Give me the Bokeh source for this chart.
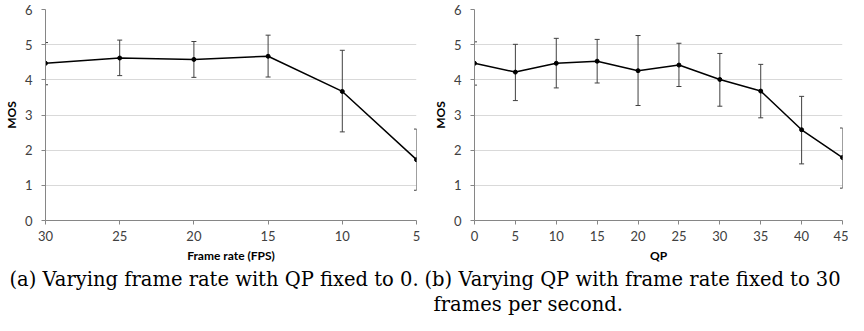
from bokeh.plotting import figure
from bokeh.models import Range1d, Whisker, ColumnDataSource, Title, FixedTicker, TeeHead
from bokeh.layouts import row
from bokeh.embed import file_html
from bokeh.resources import INLINE

# Panel (a): varying frame rate, QP fixed to 0
fps = [30, 25, 20, 15, 10, 5]
mos_fps = [4.47, 4.62, 4.58, 4.67, 3.67, 1.73]
upper_fps = [5.06, 5.13, 5.09, 5.27, 4.84, 2.60]
lower_fps = [3.86, 4.12, 4.07, 4.08, 2.52, 0.86]

# Panel (b): varying QP, frame rate fixed to 30
qp = [0, 5, 10, 15, 20, 25, 30, 35, 40, 45]
mos_qp = [4.47, 4.22, 4.47, 4.53, 4.26, 4.42, 4.01, 3.68, 2.58, 1.79]
upper_qp = [5.08, 5.01, 5.18, 5.15, 5.26, 5.04, 4.75, 4.44, 3.53, 2.63]
lower_qp = [3.85, 3.41, 3.77, 3.91, 3.27, 3.81, 3.25, 2.92, 1.61, 0.92]

y_ticks = [0, 1, 2, 3, 4, 5, 6]

TICK_FONT = "Lato"
CAP_FONT = "DejaVu Serif"
H = 315


def make_panel(x, y, up, lo, xr, xticks, xlabel, captions, width, left, right):
    p = figure(width=width, height=H, output_backend="svg", toolbar_location=None,
               x_range=xr, y_range=Range1d(0, 6),
               min_border_left=left, min_border_right=right,
               min_border_top=9, min_border_bottom=94)
    p.outline_line_color = None
    p.xgrid.grid_line_color = None
    p.ygrid.grid_line_color = "#d9d9d9"
    p.ygrid.grid_line_width = 1
    p.yaxis.ticker = FixedTicker(ticks=y_ticks)
    p.xaxis.ticker = FixedTicker(ticks=xticks)
    for ax in (p.xaxis[0], p.yaxis[0]):
        ax.axis_line_color = "#868686"
        ax.major_tick_line_color = "#868686"
        ax.major_tick_out = 4
        ax.major_tick_in = 0
        ax.minor_tick_line_color = None
        ax.major_label_text_font = TICK_FONT
        ax.major_label_text_font_size = "13px"
        ax.major_label_text_color = "#404040"
        ax.axis_label_text_font = TICK_FONT
        ax.axis_label_text_font_style = "bold"
        ax.axis_label_text_font_size = "12px"
        ax.axis_label_text_color = "#000000"
    p.xaxis.axis_label = xlabel
    p.yaxis.axis_label = "MOS"
    p.xaxis.major_label_standoff = 6
    p.xaxis.axis_label_standoff = 4
    p.yaxis.major_label_standoff = 9
    p.yaxis.axis_label_standoff = 3

    src = ColumnDataSource(dict(x=x, y=y, up=up, lo=lo))
    w = Whisker(base="x", upper="up", lower="lo", source=src,
                line_color="#404040", line_width=1,
                upper_head=TeeHead(size=5, line_color="#404040", line_width=1),
                lower_head=TeeHead(size=5, line_color="#404040", line_width=1))
    p.add_layout(w)
    p.line("x", "y", source=src, line_color="black", line_width=1.5)
    p.scatter("x", "y", source=src, size=4, color="black")

    for txt, off in captions:
        t = Title(text=txt, align="left", offset=off, text_font=CAP_FONT,
                  text_font_size="19.5px", text_font_style="normal",
                  text_color="#000000", standoff=0)
        p.add_layout(t, "below")
    return p


pa = make_panel(fps, mos_fps, upper_fps, lower_fps, Range1d(30, 5), fps,
                "Frame rate (FPS)",
                [("(a) Varying frame rate with QP fixed to 0.", -36)],
                424, 36, 8)
pb = make_panel(qp, mos_qp, upper_qp, lower_qp, Range1d(0, 45), qp,
                "QP",
                [("(b) Varying QP with frame rate fixed to 30", -50),
                 ("frames per second.", -41)],
                424, 50, 6)

layout = row(pa, pb, spacing=0)
open("out.html", "w").write(file_html(layout, INLINE))
